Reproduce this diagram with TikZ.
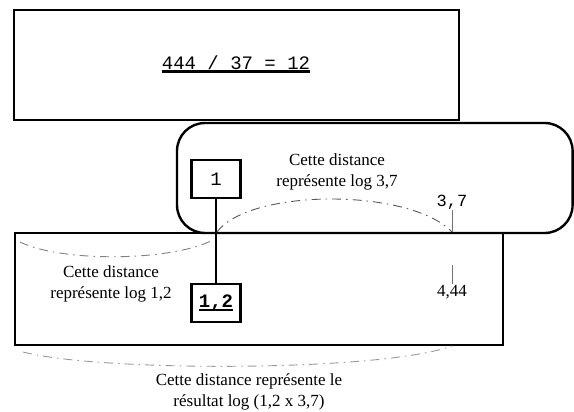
\documentclass[tikz,border=0pt]{standalone}
\usepackage{fontspec}
\setmainfont{Liberation Serif}
\setmonofont{Liberation Mono}
\newcommand\thickul[1]{\setbox0\hbox{#1}\rlap{\raisebox{-3.5pt}{\rule{\wd0}{2.2pt}}}\box0}
\tikzset{
  frame/.style={draw=black, line width=2.4pt},
  valbox/.style={draw=black, line width=2.4pt, minimum width=49pt, minimum height=38pt, inner sep=0pt},
  lbl/.style={align=center, inner sep=1pt, font=\fontsize{17}{20.5}\selectfont},
  mono/.style={inner sep=1pt, font=\fontsize{17}{20}\selectfont\ttfamily},
  arcline/.style={draw=black!65, line width=0.9pt, dash pattern=on 9pt off 5pt on 1.5pt off 5pt},
  tickline/.style={draw=black!55, line width=0.9pt},
  link/.style={draw=black, line width=2.2pt}
}
\begin{document}
\begin{tikzpicture}[x=1pt,y=-1pt]
\useasboundingbox (0,0) rectangle (574,412);
% frames
\draw[frame] (14,10) rectangle (459,120);
\draw[frame, rounded corners=28pt] (177,123) rectangle (572.6,233);
\draw[frame] (15,233) rectangle (503,345);
% texts
\node[mono, font=\fontsize{19}{22}\selectfont\ttfamily] (eq) at (236,64) {\thickul{444 / 37 = 12}};
\node[valbox, font=\fontsize{19}{20}\selectfont\ttfamily] (one) at (216,179) {1};
\node[valbox, font=\fontsize{19}{20}\selectfont\ttfamily\bfseries] (onetwo) at (216,303) {\thickul{1,2}};
\node[lbl] (t37) at (337,172) {Cette distance\\représente log 3,7};
\node[lbl] (t12) at (111,284) {Cette distance\\représente log 1,2};
\node[lbl] (tres) at (249,392) {Cette distance représente le\\résultat log (1,2 x 3,7)};
\node[mono] (v37) at (452,202) {3,7};
\node[lbl] (v444) at (452,292) {4,44};
% connector
\draw[link] (one) -- (onetwo);
% coordinates for arcs and ticks
\coordinate (a1) at (217,232);
\coordinate (a2) at (452,232);
\coordinate (b1) at (20,242);
\coordinate (b2) at (213,240);
\coordinate (c1) at (23,352);
\coordinate (c2) at (452,346);
\coordinate (k1) at (452,265);
% arcs
\draw[arcline] (a1) .. controls (250,188) and (410,188) .. (a2);
\draw[arcline, draw=black!50] (b1) .. controls (60,262) and (170,262) .. (b2);
\draw[arcline, draw=black!40] (c1) .. controls (100,372) and (380,372) .. (c2);
% ticks
\draw[tickline] (v37.south) -- (a2);
\draw[tickline] (k1) -- (v444.north);
\end{tikzpicture}
\end{document}
